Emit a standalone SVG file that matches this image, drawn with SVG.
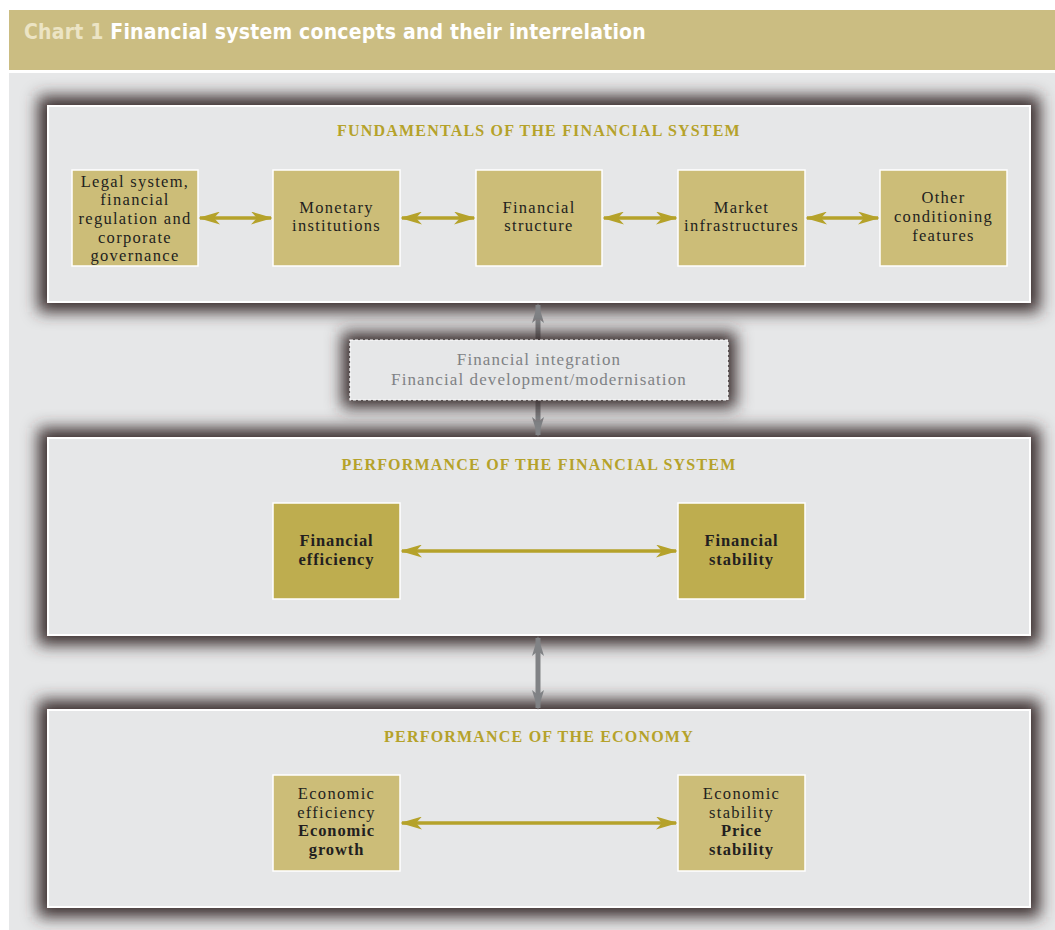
<svg xmlns="http://www.w3.org/2000/svg" width="1055" height="930" viewBox="0 0 1055 930">
<style>
.panel{fill:#e6e7e8;stroke:#ffffff;stroke-width:2}
.shadow{fill:#3a2e2e}
.box{fill:#ccbd78;stroke:#ffffff;stroke-width:1.5}
.boxd{fill:#bead4f;stroke:#ffffff;stroke-width:1.5}
.t{font-family:"Liberation Serif","Times New Roman",serif;font-size:16.5px;fill:#231f20;text-anchor:middle;letter-spacing:1.3px}
.b{font-weight:bold;letter-spacing:0.9px}
.ptitle{font-family:"Liberation Serif","Times New Roman",serif;font-size:16px;font-weight:bold;fill:#b5a22a;text-anchor:middle;letter-spacing:1.2px}
.gold{stroke:#b5a22a;stroke-width:3.5;fill:none;marker-start:url(#gh);marker-end:url(#gh)}
.gray{stroke:#808285;stroke-width:5;fill:none;marker-start:url(#rh);marker-end:url(#rh)}
.mid{font-family:"Liberation Serif","Times New Roman",serif;font-size:17px;fill:#808285;text-anchor:middle;letter-spacing:1.1px}
.hdr{font-family:"DejaVu Sans Condensed","DejaVu Sans",sans-serif;font-size:21px;font-weight:bold;letter-spacing:0.2px}
</style>
<defs>
<filter id="blur" x="-10%" y="-30%" width="120%" height="160%"><feGaussianBlur stdDeviation="8"/></filter>
<marker id="gh" viewBox="0 0 22 13" refX="20" refY="6.5" markerWidth="22" markerHeight="13" markerUnits="userSpaceOnUse" orient="auto-start-reverse"><path d="M0,0 L22,6.5 L0,13 L6,6.5 z" fill="#b5a22a"/></marker>
<marker id="rh" viewBox="0 0 20 12" refX="18" refY="6" markerWidth="20" markerHeight="12" markerUnits="userSpaceOnUse" orient="auto-start-reverse"><path d="M0,0 L20,6 L0,12 L5,6 z" fill="#808285"/></marker>
</defs>
<rect x="0" y="0" width="1055" height="930" fill="#ffffff"/>
<rect x="9" y="10" width="1046" height="60" fill="#cbbd82"/>
<rect x="9" y="73" width="1046" height="857" fill="#e6e7e8"/>
<text x="24" y="39" class="hdr"><tspan fill="#ece4c4">Chart 1 </tspan><tspan fill="#ffffff">Financial system concepts and their interrelation</tspan></text>

<g id="shadows">
<rect class="shadow" x="38" y="96" width="1002" height="216" filter="url(#blur)"/>
<rect class="shadow" x="38" y="428" width="1002" height="217" filter="url(#blur)"/>
<rect class="shadow" x="38" y="700" width="1002" height="217" filter="url(#blur)"/>
</g>

<g id="panel-fundamentals">
<rect class="panel" x="48" y="106" width="982" height="196"/>
<text class="ptitle" x="539" y="136">FUNDAMENTALS OF THE FINANCIAL SYSTEM</text>
</g>
<g id="panel-performance-fs">
<rect class="panel" x="48" y="438" width="982" height="197"/>
<text class="ptitle" x="539" y="470">PERFORMANCE OF THE FINANCIAL SYSTEM</text>
</g>
<g id="panel-economy">
<rect class="panel" x="48" y="710" width="982" height="197"/>
<text class="ptitle" x="539" y="742">PERFORMANCE OF THE ECONOMY</text>
</g>

<g id="connectors">
<line class="gold" x1="200" y1="218" x2="271" y2="218"/>
<line class="gold" x1="402" y1="218" x2="474" y2="218"/>
<line class="gold" x1="604" y1="218" x2="676" y2="218"/>
<line class="gold" x1="807" y1="218" x2="878" y2="218"/>
<line class="gold" x1="402" y1="551" x2="676" y2="551"/>
<line class="gold" x1="402" y1="823" x2="676" y2="823"/>
<line class="gray" x1="538" y1="305" x2="538" y2="435"/>
<line class="gray" x1="538" y1="638" x2="538" y2="708"/>
</g>

<g id="node-integration">
<rect class="shadow" x="342" y="332" width="394" height="76" filter="url(#blur)"/>
<rect x="350" y="340" width="378" height="60" fill="#e6e7e8" stroke="#ffffff" stroke-width="1.2" stroke-dasharray="3,2"/>
<text class="mid" x="539" y="365">Financial integration</text>
<text class="mid" x="539" y="385">Financial development/modernisation</text>
</g>

<g id="node-legal">
<rect class="box" x="72" y="170" width="126" height="96"/>
<text class="t" x="135" y="187">Legal system,</text>
<text class="t" x="135" y="205">financial</text>
<text class="t" x="135" y="224">regulation and</text>
<text class="t" x="135" y="243">corporate</text>
<text class="t" x="135" y="261">governance</text>
</g>
<g id="node-monetary">
<rect class="box" x="273" y="170" width="127" height="96"/>
<text class="t" x="336.5" y="213">Monetary</text>
<text class="t" x="336.5" y="231">institutions</text>
</g>
<g id="node-structure">
<rect class="box" x="476" y="170" width="126" height="96"/>
<text class="t" x="539" y="213">Financial</text>
<text class="t" x="539" y="231">structure</text>
</g>
<g id="node-market">
<rect class="box" x="678" y="170" width="127" height="96"/>
<text class="t" x="741.5" y="213">Market</text>
<text class="t" x="741.5" y="231">infrastructures</text>
</g>
<g id="node-other">
<rect class="box" x="880" y="170" width="127" height="96"/>
<text class="t" x="943.5" y="203">Other</text>
<text class="t" x="943.5" y="222">conditioning</text>
<text class="t" x="943.5" y="241">features</text>
</g>

<g id="node-fin-efficiency">
<rect class="boxd" x="273" y="503" width="127" height="96"/>
<text class="t b" x="336.5" y="546">Financial</text>
<text class="t b" x="336.5" y="565">efficiency</text>
</g>
<g id="node-fin-stability">
<rect class="boxd" x="678" y="503" width="127" height="96"/>
<text class="t b" x="741.5" y="546">Financial</text>
<text class="t b" x="741.5" y="565">stability</text>
</g>

<g id="node-econ-efficiency">
<rect class="box" x="273" y="775" width="127" height="96"/>
<text class="t" x="336.5" y="799">Economic</text>
<text class="t" x="336.5" y="818">efficiency</text>
<text class="t b" x="336.5" y="836">Economic</text>
<text class="t b" x="336.5" y="855">growth</text>
</g>
<g id="node-econ-stability">
<rect class="box" x="678" y="775" width="127" height="96"/>
<text class="t" x="741.5" y="799">Economic</text>
<text class="t" x="741.5" y="818">stability</text>
<text class="t b" x="741.5" y="836">Price</text>
<text class="t b" x="741.5" y="855">stability</text>
</g>
</svg>
